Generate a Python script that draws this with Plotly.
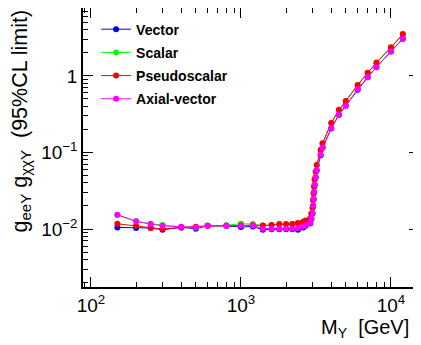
import numpy as np
import plotly.graph_objects as go

mass = [150, 200, 250, 300, 400, 500, 600, 800, 1000, 1200, 1400, 1600, 1800, 2000, 2200, 2400, 2600, 2700,
        2900, 2950, 3000, 3025, 3050, 3075, 3100, 3150, 3200, 3400, 3500, 4000, 4500, 5000, 6000, 7000, 8000, 10000, 12000]

vector = [0.0105, 0.0103, 0.0103, 0.0098, 0.0105, 0.0101, 0.0110, 0.0110, 0.0106, 0.0108, 0.0098, 0.0099, 0.0099, 0.0099, 0.0099, 0.0098, 0.0105, 0.0110,
          0.0118, 0.0135, 0.0160, 0.0200, 0.0245, 0.0300, 0.0375, 0.0470, 0.0580, 0.0920, 0.115, 0.205, 0.31, 0.41, 0.66, 0.96, 1.30, 2.08, 3.05]
scalar = [0.0152, 0.0126, 0.0117, 0.0113, 0.0107, 0.0105, 0.0110, 0.0112, 0.0117, 0.0116, 0.0111, 0.0113, 0.0115, 0.0115, 0.0116, 0.0119, 0.0123, 0.0128,
          0.0137, 0.0158, 0.0188, 0.0236, 0.0290, 0.0353, 0.0440, 0.0555, 0.0680, 0.107, 0.130, 0.240, 0.355, 0.465, 0.75, 1.08, 1.46, 2.33, 3.45]
pseudoscalar = [0.0117, 0.0110, 0.0103, 0.0100, 0.0105, 0.0107, 0.0110, 0.0110, 0.0112, 0.0112, 0.0111, 0.0113, 0.0116, 0.0116, 0.0116, 0.0120, 0.0124, 0.0129,
                0.0138, 0.0160, 0.0190, 0.0239, 0.0293, 0.0357, 0.0446, 0.0561, 0.0687, 0.108, 0.132, 0.243, 0.36, 0.471, 0.762, 1.10, 1.49, 2.37, 3.51]
axial_vector = [0.0154, 0.0126, 0.0116, 0.0110, 0.0107, 0.0105, 0.0110, 0.0110, 0.0110, 0.0111, 0.0101, 0.0101, 0.0101, 0.0101, 0.0101, 0.0103, 0.0108, 0.0113,
                0.0120, 0.0137, 0.0162, 0.0203, 0.0249, 0.0304, 0.0380, 0.0477, 0.0585, 0.0930, 0.116, 0.207, 0.31, 0.405, 0.67, 0.96, 1.30, 2.08, 3.05]

series = [("Vector", vector, "#0000ff"), ("Scalar", scalar, "#00ff00"),
          ("Pseudoscalar", pseudoscalar, "#ff0000"), ("Axial-vector", axial_vector, "#ff00ff")]

x_ticks = [100, 1000, 10000]
x_ticktext = ["10<sup>2</sup>", "10<sup>3</sup>", "10<sup>4</sup>"]
y_ticks = [0.01, 0.1, 1]
y_ticktext = ["10<sup>\u22122</sup>", "10<sup>\u22121</sup>", "1"]

fig = go.Figure()
for i, (name, vals, col) in enumerate(series):
    fig.add_trace(go.Scatter(x=mass, y=vals, name=name, mode="lines+markers",
                             line=dict(color=col, width=1),
                             marker=dict(color=col, size=6, symbol="circle"),
                             legendgroup=name))

minor_x = [m * 10**e for e in range(1, 5) for m in range(2, 10)]
minor_y = [m * 10.0**e for e in range(-3, 1) for m in range(2, 10)]

font = "Liberation Sans, Arial, sans-serif"
fig.update_layout(
    width=421, height=345,
    margin=dict(l=75, r=10, t=0, b=66, autoexpand=False),
    plot_bgcolor="white", paper_bgcolor="white",
    font=dict(family=font, color="black", size=16),
    showlegend=True,
    legend=dict(x=0.039, y=0.98, xanchor="left", yanchor="top",
                font=dict(size=14, family=font, weight="bold"),
                tracegroupgap=2, bgcolor="rgba(0,0,0,0)", itemwidth=30),
    xaxis=dict(type="log", range=[1.947, 4.187], showgrid=False, zeroline=False,
               showline=True, linecolor="black", linewidth=1.5, mirror="ticks",
               ticks="inside", ticklen=10, tickcolor="black",
               tickmode="array", tickvals=x_ticks, ticktext=x_ticktext,
               tickfont=dict(size=19),
               minor=dict(ticks="inside", ticklen=5, tickcolor="black",
                          tickmode="array", tickvals=minor_x, showgrid=False)),
    yaxis=dict(type="log", range=[-2.757, 0.886], showgrid=False, zeroline=False,
               showline=True, linecolor="black", linewidth=1.5, mirror="ticks",
               ticks="inside", ticklen=10, tickcolor="black",
               tickmode="array", tickvals=y_ticks, ticktext=y_ticktext,
               tickfont=dict(size=19),
               minor=dict(ticks="inside", ticklen=5, tickcolor="black",
                          tickmode="array", tickvals=minor_y, showgrid=False)),
    annotations=[
        dict(text="M<sub>Y</sub>  [GeV]", xref="paper", yref="paper",
             x=0.975, y=-0.095, xanchor="right", yanchor="top",
             showarrow=False, font=dict(size=20)),
        dict(text="g<sub>eeY</sub> g<sub>\u03c7\u03c7Y</sub>  (95%CL limit)", xref="paper", yref="paper",
             x=-0.1845, y=1.0, xanchor="center", yanchor="top", textangle=-90,
             showarrow=False, font=dict(size=21.5)),
    ],
)

fig.write_html("out.html")
